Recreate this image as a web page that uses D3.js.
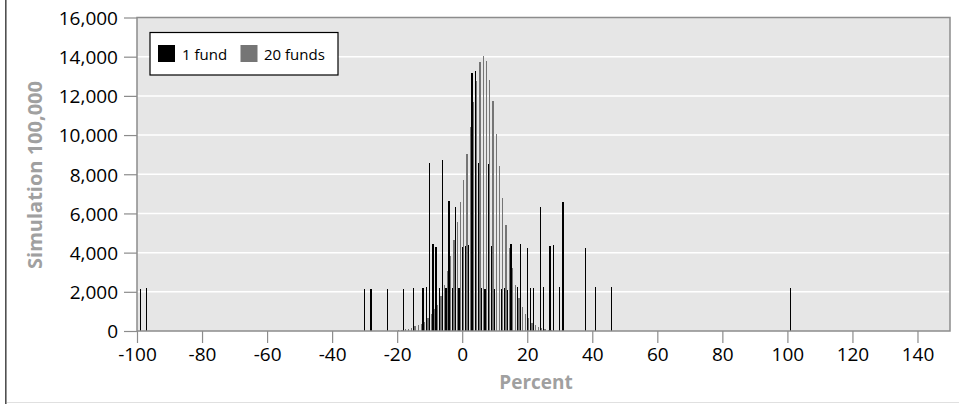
<!DOCTYPE html>
<html><head><meta charset="utf-8">
<script src="https://cdn.jsdelivr.net/npm/d3@7"></script>
<style>
body{margin:0;background:#fff;}
svg{display:block;font-family:"Open Sans",sans-serif;}
</style>
</head><body>
<svg id="chart" width="959" height="404"></svg>
<script>
// ---- data ----
const seriesNames = ["1 fund", "20 funds"];
const oneFundBins = [-99, -97, -30, -28, -23, -18, -15, -12, -11, -10, -9, -8, -7, -6, -5, -4, -3, -2, -1,
  0, 1, 2, 3, 4, 5, 6, 7, 8, 9, 10, 12, 13, 14, 15, 17, 18, 20, 21, 22, 24, 25, 27, 28, 30, 31, 38, 41, 46, 101];
const oneFundCounts = [2130, 2190, 2150, 2150, 2140, 2150, 2180, 2180, 2230, 8560, 4420, 4270, 2180, 8710, 2180, 6630, 2200, 6340, 2180,
  4270, 4330, 4390, 13150, 13270, 8590, 2210, 2130, 8510, 4340, 2130, 2160, 2200, 2110, 4420, 2260, 4420, 4220, 2180, 2200, 6310, 2260, 4340, 4390, 2260, 6600, 4220, 2230, 2260, 2180];
const twentyFundBins = [-20, -19, -18, -17, -16, -15, -14, -13, -12, -11, -10, -9, -8, -7, -6, -5, -4, -3, -2, -1,
  0, 1, 2, 3, 4, 5, 6, 7, 8, 9, 10, 11, 12, 13, 14, 15, 16, 17, 18, 19, 20, 21, 22, 23, 24, 25, 26, 27, 28, 29, 30];
const twentyFundCounts = [30, 50, 80, 120, 170, 250, 300, 360, 480, 650, 850, 1100, 1350, 1800, 2350, 3050, 3820, 4640, 5580, 6580,
  7710, 9030, 10390, 11700, 12770, 13720, 14030, 13780, 12810, 11740, 10040, 8430, 6770, 5400, 4250, 3230, 2350, 1670, 1240, 880,
  650, 430, 300, 220, 140, 90, 60, 40, 25, 15, 10];
const xTicks = [-100, -80, -60, -40, -20, 0, 20, 40, 60, 80, 100, 120, 140];
const yTicks = [0, 2000, 4000, 6000, 8000, 10000, 12000, 14000, 16000];
const xTitle = "Percent";
const yTitle = "Simulation 100,000";

// ---- layout ----
const W = 959, H = 404;
const plot = {left: 137, right: 950, top: 17.5, bottom: 331};
const colors = {one: "#000000", twenty: "#757575", bg: "#e6e6e6", frame: "#8c8c8c"};

const svg = d3.select("#chart");
const x = d3.scaleLinear().domain([-100, 150]).range([plot.left, plot.right]);
const y = d3.scaleLinear().domain([0, 16000]).range([plot.bottom, plot.top]);

// outer frame of the figure
svg.append("line").attr("x1", 5.8).attr("x2", 5.8).attr("y1", 0).attr("y2", H)
  .attr("stroke", "#505050").attr("stroke-width", 1.6);
svg.append("line").attr("x1", 7).attr("x2", W).attr("y1", 402.5).attr("y2", 402.5)
  .attr("stroke", "#e0e0e0").attr("stroke-width", 1);

// plot background
svg.append("rect").attr("x", plot.left).attr("y", plot.top)
  .attr("width", plot.right - plot.left).attr("height", plot.bottom - plot.top)
  .attr("fill", colors.bg);

// gridlines
svg.append("g").selectAll("line").data(yTicks.filter(d => d > 0 && d < 16000)).join("line")
  .attr("x1", plot.left).attr("x2", plot.right)
  .attr("y1", d => y(d)).attr("y2", d => y(d))
  .attr("stroke", "#ffffff").attr("stroke-width", 1.5);

// bars
const oneFund = oneFundBins.map((b, i) => ({b, v: oneFundCounts[i]}));
const twentyFund = twentyFundBins.map((b, i) => ({b, v: twentyFundCounts[i]}));

svg.append("g").selectAll("rect").data(twentyFund).join("rect")
  .attr("x", d => x(d.b) + 0.9).attr("width", 1.3)
  .attr("y", d => y(d.v)).attr("height", d => y(0) - y(d.v))
  .attr("fill", colors.twenty).attr("shape-rendering", "crispEdges");
svg.append("g").selectAll("rect").data(oneFund).join("rect")
  .attr("x", d => x(d.b) - 0.7).attr("width", 1.3)
  .attr("y", d => y(d.v)).attr("height", d => y(0) - y(d.v))
  .attr("fill", colors.one).attr("shape-rendering", "crispEdges");

// plot border
svg.append("rect").attr("x", plot.left).attr("y", plot.top)
  .attr("width", plot.right - plot.left).attr("height", plot.bottom - plot.top)
  .attr("fill", "none").attr("stroke", colors.frame).attr("stroke-width", 1.5);

// y axis
const yAxis = d3.axisLeft(y).tickValues(yTicks).tickFormat(d3.format(",")).tickSize(13).tickPadding(6);
const gy = svg.append("g").attr("transform", `translate(${plot.left},0)`).call(yAxis);
gy.select(".domain").remove();
gy.selectAll(".tick line").attr("stroke", colors.frame).attr("stroke-width", 1.2);
gy.selectAll(".tick text").attr("fill", "#000").attr("font-size", 19).attr("font-family", "'Open Sans', sans-serif").attr("dy", "0.36em");

// x axis
const xAxis = d3.axisBottom(x).tickValues(xTicks).tickFormat(d3.format("d")).tickSize(12).tickPadding(5);
const gx = svg.append("g").attr("transform", `translate(0,${plot.bottom})`).call(xAxis);
gx.select(".domain").remove();
gx.selectAll(".tick line").attr("stroke", colors.frame).attr("stroke-width", 1.2);
gx.selectAll(".tick text").attr("fill", "#000").attr("font-size", 19).attr("font-family", "'Open Sans', sans-serif")
  .text(d => d < 0 ? "-" + Math.abs(d) : String(d));

// axis titles
svg.append("text").attr("x", 536).attr("y", 389).attr("text-anchor", "middle")
  .attr("font-size", 19).attr("font-weight", "bold").attr("fill", "#a0a0a0").text(xTitle);
svg.append("text").attr("transform", "translate(42,175) rotate(-90)").attr("text-anchor", "middle")
  .attr("font-size", 20).attr("font-weight", "bold").attr("fill", "#a0a0a0").text(yTitle);

// legend
const lg = svg.append("g");
lg.append("rect").attr("x", 150).attr("y", 32.5).attr("width", 188).attr("height", 42.5)
  .attr("fill", "#fff").attr("stroke", "#000").attr("stroke-width", 1.2);
const legendItems = [{name: seriesNames[0], color: colors.one, sx: 158, tx: 182},
                     {name: seriesNames[1], color: colors.twenty, sx: 240.5, tx: 264}];
legendItems.forEach(it => {
  lg.append("rect").attr("x", it.sx).attr("y", 45).attr("width", 17).attr("height", 17).attr("fill", it.color);
  lg.append("text").attr("x", it.tx).attr("y", 59.5).attr("font-size", 15).attr("fill", "#000").text(it.name);
});
</script>
</body></html>
